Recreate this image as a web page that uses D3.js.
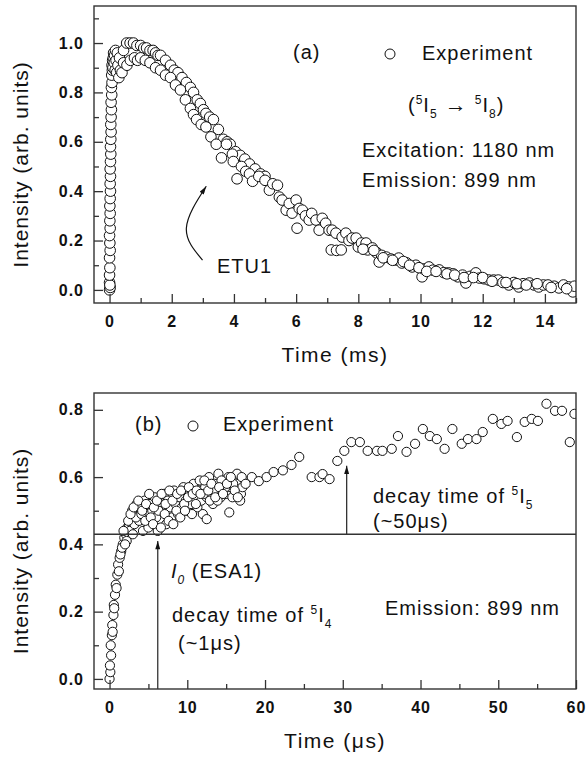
<!DOCTYPE html>
<html>
<head>
<meta charset="utf-8">
<script src="https://cdn.jsdelivr.net/npm/d3@7"></script>
<style>
  body { margin: 0; background: #fff; }
  svg { font-family: Arial, "Liberation Sans", sans-serif; }
</style>
</head>
<body>
<svg id="chart" width="587" height="757"></svg>
<script>
// panel (a): decay after 1180 nm excitation, time in ms
const TIME_A = [
  0.00, 0.02, 0.00, 0.01, 0.00, 0.01, 0.00, 0.02, 0.01, 0.00, 0.02, 0.01, 0.02, 0.01, 0.02, 0.03, 0.02, 0.03,
  0.02, 0.03, 0.04, 0.03, 0.04, 0.05, 0.04, 0.05, 0.06, 0.05, 0.07, 0.06, 0.08, 0.07, 0.09, 0.08, 0.10, 0.12,
  0.11, 0.13, 0.15, 0.16, 0.18, 0.19, 0.21, 0.23, 0.25, 0.27, 0.30, 0.32, 0.35,
  0.45, 0.55, 0.66, 0.77, 0.88, 1.00, 1.10, 1.19, 1.30, 1.40, 1.48, 1.56, 1.64, 1.80, 1.96, 2.08, 2.20, 2.33,
  2.47, 2.60, 2.70, 2.82, 2.92, 3.02, 3.10, 3.22, 3.34, 3.50, 3.66, 3.78, 3.88, 4.05, 4.20, 4.35, 4.50, 4.68,
  4.85, 5.00,
  0.40, 0.45, 0.56, 0.67, 0.80, 0.90, 1.00, 1.15, 1.30, 1.48, 1.64, 1.80, 1.96, 2.12, 2.28, 2.44, 2.60, 2.70,
  2.80, 2.95, 3.10, 3.26, 3.43, 3.60, 3.76, 3.95, 3.98, 4.10, 4.24, 4.38, 4.50, 4.60, 4.80,
  5.00, 5.14, 5.25, 5.40, 5.46, 5.55, 5.68, 5.78, 5.87, 6.00, 6.03, 6.10, 6.20, 6.30, 6.42, 6.50, 6.64, 6.74,
  6.84, 6.95, 7.06, 7.13, 7.16, 7.28, 7.30, 7.45, 7.48, 7.60, 7.70, 7.80, 7.93, 8.00, 8.10, 8.25, 8.30, 8.45,
  8.57, 8.60, 8.67, 8.75, 8.90, 9.05, 9.20, 9.30, 9.40, 9.55, 9.73, 9.85, 10.05, 10.10, 10.27, 10.40, 10.60,
  10.75, 10.90, 11.05, 11.20, 11.35, 11.46, 11.60, 11.78, 11.90, 12.05, 12.20, 12.35, 12.50, 12.65, 12.84,
  13.00, 13.16, 13.30, 13.50, 13.65, 13.80, 13.95, 14.10, 14.30, 14.45, 14.60, 14.77, 14.90, 14.95,
  8.15, 8.50, 8.80, 9.10, 9.45, 9.65, 9.95, 10.20, 10.50, 10.85, 11.10, 11.40, 11.70, 12.00, 12.30, 12.75,
  13.10, 13.40, 13.75, 14.20, 14.70
];
const INTENSITY_A = [
  0.00, 0.01, 0.03, 0.02, 0.06, 0.09, 0.13, 0.16, 0.19, 0.22, 0.25, 0.28, 0.31, 0.34, 0.37, 0.40, 0.43, 0.46,
  0.49, 0.52, 0.55, 0.58, 0.61, 0.64, 0.67, 0.70, 0.73, 0.76, 0.79, 0.82, 0.84, 0.87, 0.89, 0.91, 0.93, 0.94,
  0.90, 0.96, 0.92, 0.95, 0.89, 0.97, 0.93, 0.88, 0.96, 0.91, 0.86, 0.94, 0.89,
  0.97, 1.00, 1.00, 1.00, 0.99, 0.99, 0.98, 0.98, 0.97, 0.97, 0.96, 0.95, 0.95, 0.93, 0.91, 0.89, 0.88, 0.86,
  0.84, 0.82, 0.80, 0.77, 0.755, 0.73, 0.715, 0.70, 0.69, 0.65, 0.61, 0.60, 0.59, 0.56, 0.545, 0.53, 0.51, 0.49,
  0.47, 0.46,
  0.88, 0.92, 0.91, 0.93, 0.94, 0.93, 0.94, 0.93, 0.92, 0.90, 0.89, 0.87, 0.86, 0.83, 0.81, 0.77, 0.735, 0.71,
  0.69, 0.67, 0.66, 0.62, 0.59, 0.535, 0.59, 0.55, 0.52, 0.45, 0.50, 0.48, 0.47, 0.44, 0.46,
  0.444, 0.404, 0.43, 0.424, 0.376, 0.364, 0.323, 0.35, 0.311, 0.364, 0.25, 0.33, 0.323, 0.30, 0.283, 0.31, 0.283, 0.242,
  0.29, 0.27, 0.242, 0.162, 0.242, 0.23, 0.16, 0.162, 0.214, 0.23, 0.20, 0.21, 0.21, 0.174, 0.19, 0.19, 0.162, 0.17,
  0.153, 0.149, 0.113, 0.14, 0.133, 0.125, 0.121, 0.129, 0.109, 0.11, 0.093, 0.10, 0.053, 0.085, 0.093, 0.08, 0.081,
  0.07, 0.069, 0.065, 0.053, 0.06, 0.028, 0.055, 0.069, 0.048, 0.045, 0.04, 0.04, 0.04, 0.03, 0.02,
  0.03, 0.012, 0.025, 0.028, 0.02, 0.012, 0.02, 0.02, 0.015, 0.008, 0.02, 0.012, -0.008, 0.015,
  0.165, 0.16, 0.13, 0.12, 0.115, 0.10, 0.09, 0.075, 0.075, 0.065, 0.06, 0.05, 0.05, 0.05, 0.035, 0.03,
  0.025, 0.02, 0.025, 0.01, 0.005
];

// panel (b): rise at 899 nm, time in microseconds
const TIME_B = [
  0.0, 0.1, 0.05, 0.2, 0.15, 0.3, 0.35, 0.5, 0.55, 0.7, 0.8, 1.0, 1.1, 1.3, 1.5, 1.7, 1.9, 2.1, 2.3, 2.5, 2.8,
  3.0, 3.3, 3.6,
  2.2, 2.6, 2.9, 3.2, 3.5, 3.8, 4.0, 4.3, 4.5, 4.8, 5.0, 5.2, 5.5, 5.8, 6.0, 6.2, 6.5, 6.8, 7.0, 7.3, 7.5, 7.8,
  8.0, 8.3, 8.5, 8.8, 9.0, 9.3, 9.5, 9.8, 10.0, 10.3, 10.5, 10.8, 11.0, 11.3, 11.5, 11.8, 12.0, 12.3, 12.5, 12.8,
  13.0, 13.3, 13.5, 13.8, 14.0, 14.3, 14.5, 14.8, 15.0, 15.3, 15.5, 15.8, 16.0, 16.3, 16.6, 16.9, 17.1,
  2.4, 3.0, 3.4, 4.1, 4.6, 5.3, 5.6, 6.3, 6.6, 7.1, 7.6, 8.2, 8.6, 9.1, 9.6, 10.1, 10.6, 11.1, 11.6, 12.1, 12.5,
  12.9, 13.4, 13.9, 14.4, 14.9, 15.4, 15.9, 16.4, 16.8,
  0.4, 0.6, 0.9, 1.2, 1.4, 1.6, 1.8, 2.0, 2.7, 3.1,
  3.7, 4.2, 4.7, 5.1, 5.7, 6.1, 6.7, 7.2, 7.7, 8.1, 8.7, 9.2, 9.7, 10.2, 10.7, 11.2, 11.7, 12.2, 12.7, 13.1,
  13.6, 14.1, 14.6, 15.1, 15.6, 16.1, 16.5, 17.0,
  17.5, 18.3, 19.2, 20.2, 21.1, 22.3, 23.4, 24.4, 26.0, 27.0, 27.4, 28.3, 29.3, 30.2, 31.1, 32.2, 33.2, 34.4,
  35.1, 36.3, 37.1, 38.2, 39.3, 40.3, 41.2, 42.1, 43.1, 44.1, 45.3, 46.1, 47.2, 48.0, 49.3, 50.4, 51.2, 52.4,
  53.4, 54.3, 55.1, 56.2, 57.3, 58.2, 59.2, 59.8
];
const INTENSITY_B = [
  0.00, 0.02, 0.04, 0.07, 0.10, 0.13, 0.16, 0.19, 0.22, 0.25, 0.28, 0.31, 0.34, 0.36, 0.38, 0.40, 0.42, 0.43,
  0.45, 0.46, 0.47, 0.48, 0.49, 0.50,
  0.41, 0.44, 0.50, 0.46, 0.52, 0.47, 0.51, 0.44, 0.53, 0.49, 0.45, 0.52, 0.50, 0.54, 0.48, 0.44, 0.52, 0.50,
  0.55, 0.46, 0.53, 0.51, 0.48, 0.56, 0.52, 0.49, 0.54, 0.51, 0.57, 0.53, 0.50, 0.55, 0.52, 0.58, 0.54, 0.51,
  0.56, 0.53, 0.49, 0.57, 0.54, 0.60, 0.55, 0.52, 0.58, 0.56, 0.61, 0.54, 0.57, 0.59, 0.55, 0.60, 0.57, 0.54,
  0.59, 0.56, 0.58, 0.55, 0.57,
  0.47, 0.43, 0.48, 0.49, 0.47, 0.48, 0.46, 0.50, 0.45, 0.49, 0.47, 0.46, 0.50, 0.48, 0.52, 0.54, 0.49, 0.52,
  0.59, 0.55, 0.475, 0.53, 0.56, 0.53, 0.59, 0.57, 0.495, 0.58, 0.61, 0.53,
  0.14, 0.21, 0.27, 0.32, 0.37, 0.39, 0.44, 0.40, 0.49, 0.51,
  0.53, 0.50, 0.52, 0.55, 0.51, 0.53, 0.55, 0.52, 0.56, 0.53, 0.55, 0.56, 0.50, 0.57, 0.55, 0.56, 0.55, 0.59,
  0.56, 0.58, 0.54, 0.57, 0.55, 0.58, 0.60, 0.56, 0.54, 0.60,
  0.58, 0.60, 0.588, 0.60, 0.615, 0.62, 0.636, 0.66, 0.60, 0.60, 0.609, 0.594, 0.648, 0.678, 0.704, 0.704,
  0.678, 0.678, 0.678, 0.684, 0.722, 0.675, 0.699, 0.743, 0.722, 0.713, 0.684, 0.743, 0.699, 0.713, 0.713,
  0.734, 0.773, 0.758, 0.767, 0.719, 0.764, 0.773, 0.767, 0.818, 0.797, 0.797, 0.704, 0.788
];

const X_MAJOR_A = [0, 2, 4, 6, 8, 10, 12, 14];
const X_MINOR_A = [1, 3, 5, 7, 9, 11, 13, 15];
const Y_MAJOR_A = [0, 0.2, 0.4, 0.6, 0.8, 1.0];
const Y_MINOR_A = [0.1, 0.3, 0.5, 0.7, 0.9, 1.1];
const X_MAJOR_B = [0, 10, 20, 30, 40, 50, 60];
const X_MINOR_B = [5, 15, 25, 35, 45, 55];
const Y_MAJOR_B = [0, 0.2, 0.4, 0.6, 0.8];
const Y_MINOR_B = [0.1, 0.3, 0.5, 0.7];

const SVG = d3.select('#chart');
const AXIS_COLOR = '#333';
const TEXT_COLOR = '#111';

SVG.append('defs')
  .append('marker')
  .attr('id', 'arrowHead')
  .attr('viewBox', '0 0 10 6')
  .attr('refX', 10)
  .attr('refY', 3)
  .attr('markerWidth', 9)
  .attr('markerHeight', 5)
  .attr('markerUnits', 'userSpaceOnUse')
  .attr('orient', 'auto')
  .append('path')
  .attr('d', 'M0,0L10,3L0,6Z')
  .style('fill', '#111');

// text with super/subscripts: parts = [text, shift, size, italic]
function richText(g, x, y, parts, size) {
  const t = g.append('text')
    .attr('x', x)
    .attr('y', y)
    .style('font-size', size + 'px')
    .style('letter-spacing', '1px')
    .style('fill', TEXT_COLOR);
  let prev = 0;
  parts.forEach(([txt, shift, sz, italic]) => {
    t.append('tspan')
      .attr('dy', shift - prev)
      .style('font-size', (sz || size) + 'px')
      .style('font-style', italic ? 'italic' : 'normal')
      .text(txt);
    prev = shift;
  });
  return t;
}

function drawPanel(cfg) {
  const W = 482;
  const H = cfg.height;
  const g = SVG.append('g').attr('transform', `translate(94,${cfg.top})`);

  const X = d3.scaleLinear().domain(cfg.xDomain).range([0, W]);
  const Y = d3.scaleLinear().domain(cfg.yDomain).range([H, 0]);

  g.append('clipPath')
    .attr('id', cfg.id + 'Clip')
    .append('rect')
    .attr('width', W)
    .attr('height', H);

  g.append('g')
    .attr('clip-path', `url(#${cfg.id}Clip)`)
    .selectAll('circle')
    .data(d3.zip(cfg.times, cfg.values))
    .join('circle')
    .attr('cx', (d) => X(d[0]))
    .attr('cy', (d) => Y(d[1]))
    .attr('r', cfg.radius)
    .style('fill', '#fff')
    .style('stroke', '#111')
    .style('stroke-width', 1);

  const xAxis = g.append('g').attr('transform', `translate(0,${H})`);
  d3.axisBottom(X).tickValues(cfg.xMajor).tickSize(-9).tickPadding(13).tickFormat(d3.format('d'))(xAxis);
  const xMinor = g.append('g').attr('transform', `translate(0,${H})`);
  d3.axisBottom(X).tickValues(cfg.xMinor).tickSize(-5).tickFormat('')(xMinor);

  const yAxis = g.append('g');
  d3.axisLeft(Y).tickValues(cfg.yMajor).tickSize(-9).tickPadding(10).tickFormat(d3.format('.1f'))(yAxis);
  const yMinor = g.append('g');
  d3.axisLeft(Y).tickValues(cfg.yMinor).tickSize(-5).tickFormat('')(yMinor);

  [xAxis, xMinor, yAxis, yMinor].forEach((a) => {
    a.select('.domain').remove();
    a.selectAll('line').style('stroke', AXIS_COLOR).style('stroke-width', 1.3);
    a.selectAll('text')
      .style('font-size', '16px')
      .style('font-weight', 'bold')
      .style('letter-spacing', '1px')
      .style('font-family', 'Arial, "Liberation Sans", sans-serif')
      .style('fill', TEXT_COLOR);
  });

  g.append('rect')
    .attr('width', W)
    .attr('height', H)
    .style('fill', 'none')
    .style('stroke', AXIS_COLOR)
    .style('stroke-width', 1.4);

  g.append('text')
    .attr('x', W / 2)
    .attr('y', H + 59)
    .attr('text-anchor', 'middle')
    .style('font-size', '21px')
    .style('letter-spacing', '1.5px')
    .style('fill', TEXT_COLOR)
    .text(cfg.xTitle);

  g.append('text')
    .attr('transform', `translate(-66,${H / 2 + 10}) rotate(-90)`)
    .attr('text-anchor', 'middle')
    .style('font-size', '21px')
    .style('letter-spacing', '1px')
    .style('fill', TEXT_COLOR)
    .text('Intensity (arb. units)');

  return { g, X, Y };
}

// ---- panel (a)
const A = drawPanel({
  id: 'a', top: 6, height: 297,
  xDomain: [-0.5, 15], yDomain: [-0.053, 1.15],
  xMajor: X_MAJOR_A, xMinor: X_MINOR_A, yMajor: Y_MAJOR_A, yMinor: Y_MINOR_A,
  times: TIME_A, values: INTENSITY_A, radius: 5.3,
  xTitle: 'Time (ms)',
});

richText(A.g, 199, 53, [['(a)', 0]], 20);
A.g.append('circle').attr('cx', 296).attr('cy', 48).attr('r', 5)
  .style('fill', '#fff').style('stroke', '#111');
richText(A.g, 328, 54, [['Experiment', 0]], 20);
richText(A.g, 314, 106, [
  ['(', 0], ['5', -8, 12], ['I', 0], ['5', 6, 12], [' \u2192 ', 0, 22], ['5', -8, 12], ['I', 0], ['8', 6, 12], [')', 0],
], 20);
richText(A.g, 268, 151, [['Excitation: 1180 nm', 0]], 20);
richText(A.g, 268, 181, [['Emission: 899 nm', 0]], 20);
richText(A.g, 123, 267, [['ETU1', 0]], 20);

A.g.append('path')
  .datum([[2.99, 0.121], [2.47, 0.25], [3.11, 0.42]])
  .attr('d', d3.line().x((d) => A.X(d[0])).y((d) => A.Y(d[1])).curve(d3.curveNatural))
  .attr('marker-end', 'url(#arrowHead)')
  .style('fill', 'none')
  .style('stroke', '#111')
  .style('stroke-width', 1.2);

// ---- panel (b)
const B = drawPanel({
  id: 'b', top: 393, height: 296,
  xDomain: [-2, 60], yDomain: [-0.03, 0.85],
  xMajor: X_MAJOR_B, xMinor: X_MINOR_B, yMajor: Y_MAJOR_B, yMinor: Y_MINOR_B,
  times: TIME_B, values: INTENSITY_B, radius: 4.6,
  xTitle: 'Time (\u03bcs)',
});

const I0_LEVEL = 0.43;
B.g.append('line')
  .attr('x1', B.X(-2)).attr('x2', B.X(60))
  .attr('y1', B.Y(I0_LEVEL)).attr('y2', B.Y(I0_LEVEL))
  .style('stroke', AXIS_COLOR).style('stroke-width', 1.3);

[[6.2, -0.03, 0.41], [30.5, I0_LEVEL, 0.634]].forEach(([t, from, to]) => {
  B.g.append('line')
    .attr('x1', B.X(t)).attr('x2', B.X(t))
    .attr('y1', B.Y(from)).attr('y2', B.Y(to))
    .attr('marker-end', 'url(#arrowHead)')
    .style('stroke', AXIS_COLOR).style('stroke-width', 1.3);
});

richText(B.g, 41, 38, [['(b)', 0]], 20);
B.g.append('circle').attr('cx', 99).attr('cy', 33).attr('r', 5)
  .style('fill', '#fff').style('stroke', '#111');
richText(B.g, 129, 38, [['Experiment', 0]], 20);
richText(B.g, 279, 110, [['decay time of ', 0], ['5', -8, 12], ['I', 0], ['5', 6, 12]], 20);
richText(B.g, 279, 135, [['(~50\u03bcs)', 0]], 20);
richText(B.g, 77, 185, [['I', 0, 20, true], ['0', 6, 12, true], [' (ESA1)', 0]], 20);
richText(B.g, 78, 229, [['decay time of ', 0], ['5', -8, 12], ['I', 0], ['4', 6, 12]], 20);
richText(B.g, 84, 257, [['(~1\u03bcs)', 0]], 20);
richText(B.g, 291, 222, [['Emission: 899 nm', 0]], 20);
</script>
</body>
</html>
